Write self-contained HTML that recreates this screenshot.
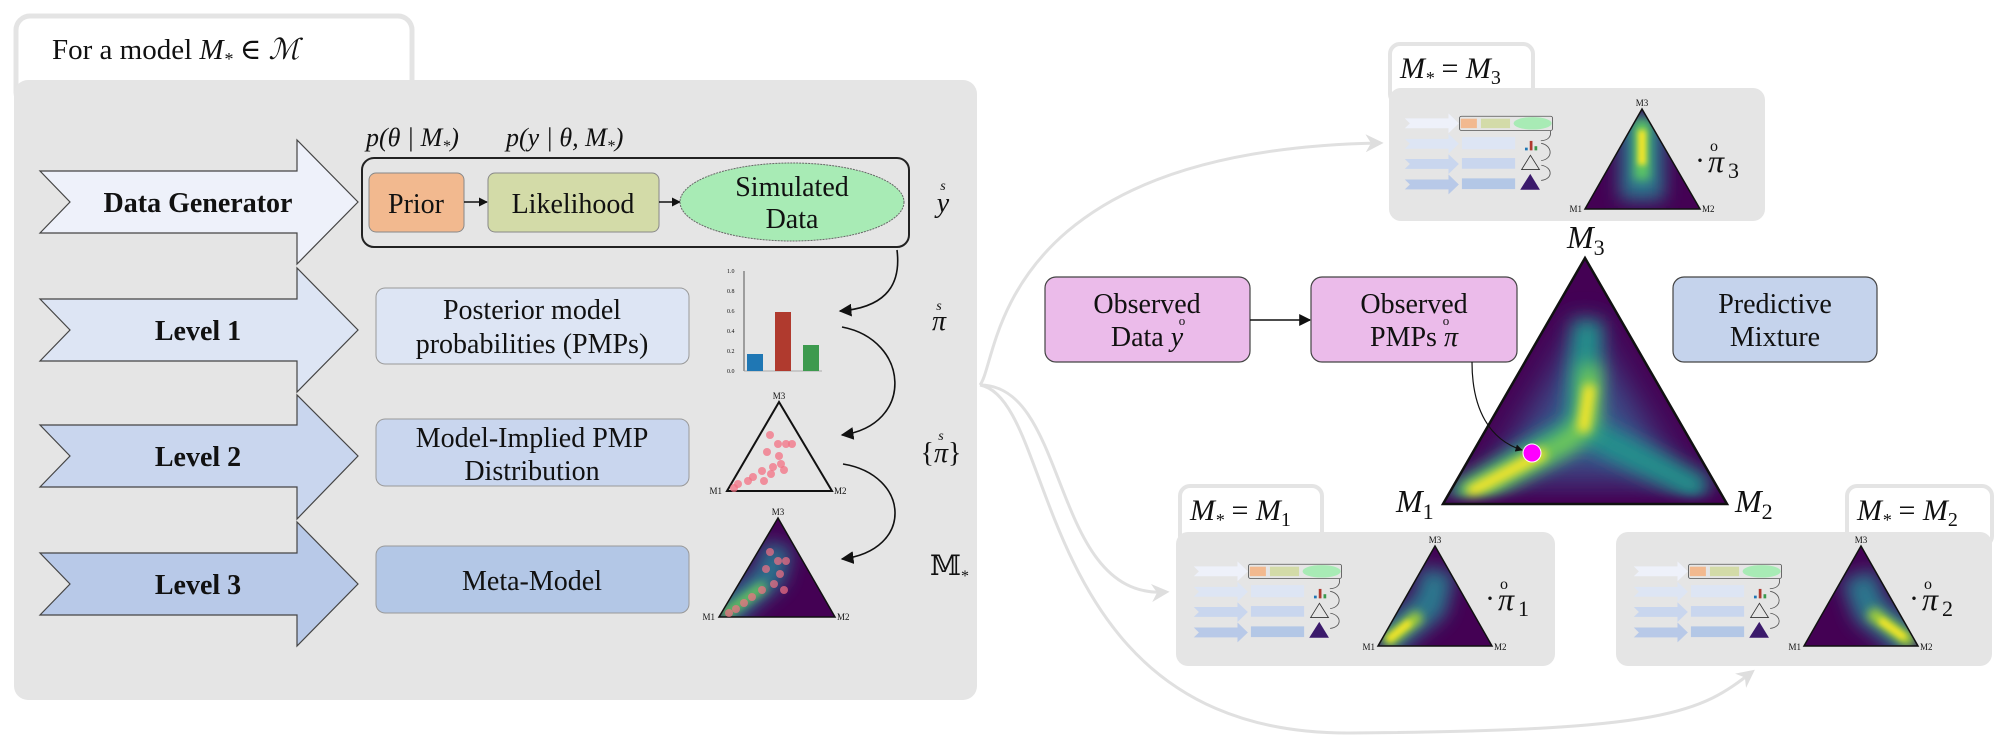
<!DOCTYPE html>
<html><head><meta charset="utf-8"><style>
html,body{margin:0;padding:0;background:#fff;}
svg{display:block;}
text{font-family:"Liberation Serif","DejaVu Serif",serif;fill:#111;}
.m{font-style:italic;}
</style></head><body>
<svg width="2000" height="749" viewBox="0 0 2000 749" xmlns="http://www.w3.org/2000/svg">
<defs>
<marker id="ah" viewBox="0 0 10 10" refX="9" refY="5" markerWidth="6" markerHeight="6" orient="auto"><path d="M0,0 L10,5 L0,10 z" fill="#111"/></marker>
<marker id="ahs" viewBox="0 0 10 10" refX="9" refY="5" markerWidth="8" markerHeight="8" orient="auto"><path d="M0,0 L10,5 L0,10 z" fill="#111"/></marker>
<marker id="ahg" viewBox="0 0 10 10" refX="8" refY="5" markerWidth="6" markerHeight="6" orient="auto"><path d="M0,0 L10,5 L0,10 L3,5 z" fill="#dedede"/></marker>
<filter id="b20" filterUnits="userSpaceOnUse" x="0" y="0" width="2000" height="749"><feGaussianBlur stdDeviation="18"/></filter>
<filter id="b10" filterUnits="userSpaceOnUse" x="0" y="0" width="2000" height="749"><feGaussianBlur stdDeviation="9"/></filter>
<filter id="b5" filterUnits="userSpaceOnUse" x="0" y="0" width="2000" height="749"><feGaussianBlur stdDeviation="5"/></filter>
<filter id="b3" filterUnits="userSpaceOnUse" x="0" y="0" width="2000" height="749"><feGaussianBlur stdDeviation="3"/></filter>
<clipPath id="cBig"><polygon points="1585,258 1443,504 1727,504"/></clipPath>
<clipPath id="cT3"><polygon points="1642,109 1585,209 1700,209"/></clipPath>
<clipPath id="cT1"><polygon points="1435,546 1378,646 1492,646"/></clipPath>
<clipPath id="cT2"><polygon points="1861,546 1804,646 1918,646"/></clipPath>
<clipPath id="cL3"><polygon points="778,518 719,617 835,617"/></clipPath>
</defs>

<!-- LEFT PANEL -->
<rect x="16" y="16" width="396" height="90" rx="14" fill="#fff" stroke="#e4e4e4" stroke-width="5"/>
<rect x="14" y="80" width="963" height="620" rx="14" fill="#e5e5e5"/>
<text x="52" y="59" font-size="29">For a model <tspan class="m">M</tspan><tspan class="m" font-size="18" dy="6">*</tspan><tspan dy="-6"> ∈ </tspan><tspan class="m" font-family="DejaVu Serif">ℳ</tspan></text>

<polygon points="40,171 297,171 297,140 358,202 297,264 297,233 40,233 70,202" fill="#eef1fa" stroke="#444" stroke-width="1.2"/>
<polygon points="40,299 297,299 297,268 358,330 297,392 297,361 40,361 70,330" fill="#dde5f4" stroke="#444" stroke-width="1.2"/>
<polygon points="40,425 297,425 297,395 358,456 297,519 297,487 40,487 70,456" fill="#c9d6ee" stroke="#444" stroke-width="1.2"/>
<polygon points="40,553 297,553 297,522 358,584 297,646 297,615 40,615 70,584" fill="#b8c9e8" stroke="#444" stroke-width="1.2"/>
<text x="198" y="212" font-size="28" font-weight="bold" text-anchor="middle">Data Generator</text>
<text x="198" y="340" font-size="28" font-weight="bold" text-anchor="middle">Level 1</text>
<text x="198" y="466" font-size="28" font-weight="bold" text-anchor="middle">Level 2</text>
<text x="198" y="594" font-size="28" font-weight="bold" text-anchor="middle">Level 3</text>

<text x="366" y="146" font-size="26" class="m">p(θ | M<tspan font-size="16" dy="5">*</tspan><tspan dy="-5">)</tspan></text>
<text x="506" y="146" font-size="26" class="m">p(y | θ, M<tspan font-size="16" dy="5">*</tspan><tspan dy="-5">)</tspan></text>
<rect x="362" y="158" width="547" height="89" rx="12" fill="none" stroke="#222" stroke-width="2"/>
<rect x="369" y="173" width="95" height="59" rx="7" fill="#f2b98f" stroke="#888" stroke-width="1"/>
<text x="416" y="213" font-size="28" text-anchor="middle">Prior</text>
<line x1="464" y1="202" x2="487" y2="202" stroke="#111" stroke-width="1.5" marker-end="url(#ah)"/>
<rect x="488" y="173" width="171" height="59" rx="7" fill="#d3dba8" stroke="#888" stroke-width="1"/>
<text x="573" y="213" font-size="28" text-anchor="middle">Likelihood</text>
<line x1="659" y1="202" x2="680" y2="202" stroke="#111" stroke-width="1.5" marker-end="url(#ah)"/>
<ellipse cx="792" cy="202" rx="112" ry="39" fill="#a8ebb5" stroke="#666" stroke-width="1" stroke-dasharray="2,1"/>
<text x="792" y="196" font-size="28" text-anchor="middle">Simulated</text>
<text x="792" y="228" font-size="28" text-anchor="middle">Data</text>
<text x="943" y="190" font-size="14" class="m" text-anchor="middle">s</text>
<text x="943" y="212" font-size="28" class="m" text-anchor="middle">y</text>

<rect x="376" y="288" width="313" height="76" rx="9" fill="#dde5f4" stroke="#999" stroke-width="1"/>
<text x="532" y="319" font-size="28" text-anchor="middle">Posterior model</text>
<text x="532" y="353" font-size="28" text-anchor="middle">probabilities (PMPs)</text>
<rect x="376" y="419" width="313" height="67" rx="9" fill="#c9d6ee" stroke="#999" stroke-width="1"/>
<text x="532" y="447" font-size="28" text-anchor="middle">Model-Implied PMP</text>
<text x="532" y="480" font-size="28" text-anchor="middle">Distribution</text>
<rect x="376" y="546" width="313" height="67" rx="9" fill="#b3c7e6" stroke="#999" stroke-width="1"/>
<text x="532" y="590" font-size="28" text-anchor="middle">Meta-Model</text>

<line x1="744" y1="271" x2="744" y2="371" stroke="#555" stroke-width="1"/>
<line x1="744" y1="371" x2="822" y2="371" stroke="#999" stroke-width="0.8"/>
<g fill="#777"><text x="727" y="273" font-size="6">1.0</text><text x="727" y="293" font-size="6">0.8</text><text x="727" y="313" font-size="6">0.6</text><text x="727" y="333" font-size="6">0.4</text><text x="727" y="353" font-size="6">0.2</text><text x="727" y="373" font-size="6">0.0</text></g>
<rect x="747" y="354" width="16" height="17" fill="#1f77b4"/>
<rect x="775" y="312" width="16" height="59" fill="#b03a2e"/>
<rect x="803" y="345" width="16" height="26" fill="#3d9a4e"/>

<polygon points="779,402 727,491 832,491" fill="none" stroke="#111" stroke-width="2"/>
<text x="779" y="399" font-size="9" text-anchor="middle" font-family="Liberation Sans">M3</text>
<text x="722" y="494" font-size="9" text-anchor="end" font-family="Liberation Sans">M1</text>
<text x="834" y="494" font-size="9" font-family="Liberation Sans">M2</text>
<g fill="#f37083" fill-opacity="0.75">
<circle cx="770" cy="435" r="4"/><circle cx="778" cy="444" r="4"/><circle cx="786" cy="444" r="4"/><circle cx="792" cy="444" r="4"/><circle cx="767" cy="452" r="4"/><circle cx="779" cy="456" r="4"/><circle cx="781" cy="464" r="4"/><circle cx="773" cy="467" r="4"/><circle cx="784" cy="470" r="4"/><circle cx="771" cy="474" r="4"/><circle cx="762" cy="471" r="4"/><circle cx="753" cy="477" r="4"/><circle cx="748" cy="481" r="4"/><circle cx="738" cy="484" r="4"/><circle cx="734" cy="488" r="4"/><circle cx="764" cy="481" r="4"/></g>

<g clip-path="url(#cL3)">
<rect x="710" y="510" width="130" height="110" fill="#440154"/>
<path d="M722,616 L770,575 L778,545" stroke="#2c728e" stroke-width="30" fill="none" filter="url(#b10)"/>
<path d="M722,616 L765,585" stroke="#6ece58" stroke-width="10" fill="none" filter="url(#b5)"/>
</g>
<polygon points="778,518 719,617 835,617" fill="none" stroke="#111" stroke-width="1.5"/>
<g fill="#f37083" fill-opacity="0.7">
<circle cx="770" cy="552" r="4"/><circle cx="778" cy="561" r="4"/><circle cx="786" cy="561" r="4"/><circle cx="766" cy="569" r="4"/><circle cx="780" cy="574" r="4"/><circle cx="774" cy="584" r="4"/><circle cx="784" cy="590" r="4"/><circle cx="762" cy="590" r="4"/><circle cx="752" cy="597" r="4"/><circle cx="744" cy="603" r="4"/><circle cx="736" cy="609" r="4"/><circle cx="729" cy="613" r="4"/></g>
<text x="778" y="515" font-size="9" text-anchor="middle" font-family="Liberation Sans">M3</text>
<text x="715" y="620" font-size="9" text-anchor="end" font-family="Liberation Sans">M1</text>
<text x="837" y="620" font-size="9" font-family="Liberation Sans">M2</text>

<path d="M897,250 C902,290 880,308 840,311" fill="none" stroke="#111" stroke-width="1.6" marker-end="url(#ahs)"/>
<path d="M842,327 C910,340 915,425 842,435" fill="none" stroke="#111" stroke-width="1.6" marker-end="url(#ahs)"/>
<path d="M843,464 C910,475 915,550 842,559" fill="none" stroke="#111" stroke-width="1.6" marker-end="url(#ahs)"/>
<text x="939" y="310" font-size="14" class="m" text-anchor="middle">s</text>
<text x="939" y="330" font-size="28" class="m" text-anchor="middle">π</text>
<text x="941" y="440" font-size="14" class="m" text-anchor="middle">s</text>
<text x="941" y="462" font-size="28" text-anchor="middle">{<tspan class="m">π</tspan>}</text>
<text x="930" y="575" font-size="28" font-family="DejaVu Serif">𝕄<tspan font-size="16" dy="6">*</tspan></text>

<g fill="none" stroke="#e0e0e0" stroke-width="3">
<path d="M980,385 C1000,360 990,150 1380,143" marker-end="url(#ahg)"/>
<path d="M980,385 C1070,385 1050,600 1166,592" marker-end="url(#ahg)"/>
<path d="M980,385 C1060,400 1030,735 1350,733 S1700,712 1752,672" marker-end="url(#ahg)"/>
</g>

<rect x="1390" y="44" width="143" height="60" rx="10" fill="#fff" stroke="#e4e4e4" stroke-width="4"/>
<rect x="1389" y="88" width="376" height="133" rx="12" fill="#e5e5e5"/>
<text x="1400" y="78" font-size="30" class="m">M<tspan font-size="18" dy="6">*</tspan><tspan dy="-6" font-style="normal"> = </tspan>M<tspan font-size="20" dy="6" font-style="normal">3</tspan></text>

<rect x="1180" y="486" width="142" height="60" rx="10" fill="#fff" stroke="#e4e4e4" stroke-width="4"/>
<rect x="1176" y="532" width="379" height="134" rx="12" fill="#e5e5e5"/>
<text x="1190" y="520" font-size="30" class="m">M<tspan font-size="18" dy="6">*</tspan><tspan dy="-6" font-style="normal"> = </tspan>M<tspan font-size="20" dy="6" font-style="normal">1</tspan></text>

<rect x="1847" y="486" width="145" height="60" rx="10" fill="#fff" stroke="#e4e4e4" stroke-width="4"/>
<rect x="1616" y="532" width="376" height="134" rx="12" fill="#e5e5e5"/>
<text x="1857" y="520" font-size="30" class="m">M<tspan font-size="18" dy="6">*</tspan><tspan dy="-6" font-style="normal"> = </tspan>M<tspan font-size="20" dy="6" font-style="normal">2</tspan></text>

<g transform="translate(1398,91) scale(0.17,0.16)">
<polygon points="40,171 297,171 297,140 358,202 297,264 297,233 40,233 70,202" fill="#eef1fa"/>
<polygon points="40,299 297,299 297,268 358,330 297,392 297,361 40,361 70,330" fill="#dde5f4"/>
<polygon points="40,425 297,425 297,395 358,456 297,519 297,487 40,487 70,456" fill="#c9d6ee"/>
<polygon points="40,553 297,553 297,522 358,584 297,646 297,615 40,615 70,584" fill="#b8c9e8"/>
<rect x="362" y="158" width="547" height="89" rx="12" fill="none" stroke="#555" stroke-width="5"/>
<rect x="369" y="173" width="95" height="59" fill="#f2b98f"/><rect x="488" y="173" width="171" height="59" fill="#d3dba8"/><ellipse cx="792" cy="202" rx="112" ry="39" fill="#a8ebb5"/>
<rect x="376" y="288" width="313" height="76" fill="#dde5f4"/><rect x="376" y="419" width="313" height="67" fill="#c9d6ee"/><rect x="376" y="546" width="313" height="67" fill="#b3c7e6"/>
<rect x="747" y="354" width="16" height="17" fill="#1f77b4"/><rect x="775" y="312" width="16" height="59" fill="#b03a2e"/><rect x="803" y="345" width="16" height="26" fill="#3d9a4e"/>
<polygon points="779,402 727,491 832,491" fill="none" stroke="#333" stroke-width="5"/><polygon points="778,518 719,617 835,617" fill="#3b1a6b"/>
<path d="M897,250 C902,290 880,308 840,311 M842,327 C910,340 915,425 842,435 M843,464 C910,475 915,550 842,559" fill="none" stroke="#555" stroke-width="5"/>
</g>
<g transform="translate(1187,539) scale(0.17,0.16)">
<polygon points="40,171 297,171 297,140 358,202 297,264 297,233 40,233 70,202" fill="#eef1fa"/>
<polygon points="40,299 297,299 297,268 358,330 297,392 297,361 40,361 70,330" fill="#dde5f4"/>
<polygon points="40,425 297,425 297,395 358,456 297,519 297,487 40,487 70,456" fill="#c9d6ee"/>
<polygon points="40,553 297,553 297,522 358,584 297,646 297,615 40,615 70,584" fill="#b8c9e8"/>
<rect x="362" y="158" width="547" height="89" rx="12" fill="none" stroke="#555" stroke-width="5"/>
<rect x="369" y="173" width="95" height="59" fill="#f2b98f"/><rect x="488" y="173" width="171" height="59" fill="#d3dba8"/><ellipse cx="792" cy="202" rx="112" ry="39" fill="#a8ebb5"/>
<rect x="376" y="288" width="313" height="76" fill="#dde5f4"/><rect x="376" y="419" width="313" height="67" fill="#c9d6ee"/><rect x="376" y="546" width="313" height="67" fill="#b3c7e6"/>
<rect x="747" y="354" width="16" height="17" fill="#1f77b4"/><rect x="775" y="312" width="16" height="59" fill="#b03a2e"/><rect x="803" y="345" width="16" height="26" fill="#3d9a4e"/>
<polygon points="779,402 727,491 832,491" fill="none" stroke="#333" stroke-width="5"/><polygon points="778,518 719,617 835,617" fill="#3b1a6b"/>
<path d="M897,250 C902,290 880,308 840,311 M842,327 C910,340 915,425 842,435 M843,464 C910,475 915,550 842,559" fill="none" stroke="#555" stroke-width="5"/>
</g>
<g transform="translate(1627,539) scale(0.17,0.16)">
<polygon points="40,171 297,171 297,140 358,202 297,264 297,233 40,233 70,202" fill="#eef1fa"/>
<polygon points="40,299 297,299 297,268 358,330 297,392 297,361 40,361 70,330" fill="#dde5f4"/>
<polygon points="40,425 297,425 297,395 358,456 297,519 297,487 40,487 70,456" fill="#c9d6ee"/>
<polygon points="40,553 297,553 297,522 358,584 297,646 297,615 40,615 70,584" fill="#b8c9e8"/>
<rect x="362" y="158" width="547" height="89" rx="12" fill="none" stroke="#555" stroke-width="5"/>
<rect x="369" y="173" width="95" height="59" fill="#f2b98f"/><rect x="488" y="173" width="171" height="59" fill="#d3dba8"/><ellipse cx="792" cy="202" rx="112" ry="39" fill="#a8ebb5"/>
<rect x="376" y="288" width="313" height="76" fill="#dde5f4"/><rect x="376" y="419" width="313" height="67" fill="#c9d6ee"/><rect x="376" y="546" width="313" height="67" fill="#b3c7e6"/>
<rect x="747" y="354" width="16" height="17" fill="#1f77b4"/><rect x="775" y="312" width="16" height="59" fill="#b03a2e"/><rect x="803" y="345" width="16" height="26" fill="#3d9a4e"/>
<polygon points="779,402 727,491 832,491" fill="none" stroke="#333" stroke-width="5"/><polygon points="778,518 719,617 835,617" fill="#3b1a6b"/>
<path d="M897,250 C902,290 880,308 840,311 M842,327 C910,340 915,425 842,435 M843,464 C910,475 915,550 842,559" fill="none" stroke="#555" stroke-width="5"/>
</g>

<g clip-path="url(#cT3)">
<rect x="1580" y="100" width="130" height="115" fill="#440154"/>
<path d="M1642,115 L1642,200" stroke="#2a788e" stroke-width="44" filter="url(#b10)"/>
<path d="M1642,120 L1642,180" stroke="#5ec962" stroke-width="16" filter="url(#b5)"/>
<path d="M1642,130 L1642,165" stroke="#fde725" stroke-width="8" filter="url(#b3)"/>
</g>
<polygon points="1642,109 1585,209 1700,209" fill="none" stroke="#111" stroke-width="1.5"/>
<g clip-path="url(#cT1)">
<rect x="1370" y="540" width="130" height="115" fill="#440154"/>
<path d="M1380,645 L1430,605 L1438,570" stroke="#2a788e" stroke-width="34" fill="none" filter="url(#b10)"/>
<path d="M1385,643 L1420,615" stroke="#b5de2b" stroke-width="12" filter="url(#b5)"/>
<path d="M1388,640 L1410,622" stroke="#fde725" stroke-width="6" filter="url(#b3)"/>
</g>
<polygon points="1435,546 1378,646 1492,646" fill="none" stroke="#111" stroke-width="1.5"/>
<g clip-path="url(#cT2)">
<rect x="1795" y="540" width="130" height="115" fill="#440154"/>
<path d="M1915,645 L1870,610 L1858,575" stroke="#2a788e" stroke-width="34" fill="none" filter="url(#b10)"/>
<path d="M1912,643 L1870,612" stroke="#b5de2b" stroke-width="12" filter="url(#b5)"/>
<path d="M1905,638 L1880,620" stroke="#fde725" stroke-width="6" filter="url(#b3)"/>
</g>
<polygon points="1861,546 1804,646 1918,646" fill="none" stroke="#111" stroke-width="1.5"/>
<g font-family="Liberation Sans" font-size="9" fill="#222">
<text x="1642" y="106" text-anchor="middle">M3</text><text x="1582" y="212" text-anchor="end">M1</text><text x="1702" y="212">M2</text>
<text x="1435" y="543" text-anchor="middle">M3</text><text x="1375" y="650" text-anchor="end">M1</text><text x="1494" y="650">M2</text>
<text x="1861" y="543" text-anchor="middle">M3</text><text x="1801" y="650" text-anchor="end">M1</text><text x="1920" y="650">M2</text>
</g>
<g>
<text x="1695" y="170" font-size="30" fill="#d627d6">·</text><text x="1710" y="151" font-size="16" fill="#d627d6" font-family="DejaVu Sans">o</text><text x="1708" y="172" font-size="32" class="m" fill="#d627d6" font-family="DejaVu Serif">π</text><text x="1728" y="178" font-size="22" fill="#d627d6" font-family="DejaVu Sans">3</text>
<text x="1485" y="608" font-size="30" fill="#d627d6">·</text><text x="1500" y="589" font-size="16" fill="#d627d6" font-family="DejaVu Sans">o</text><text x="1498" y="610" font-size="32" class="m" fill="#d627d6" font-family="DejaVu Serif">π</text><text x="1518" y="616" font-size="22" fill="#d627d6" font-family="DejaVu Sans">1</text>
<text x="1909" y="608" font-size="30" fill="#d627d6">·</text><text x="1924" y="589" font-size="16" fill="#d627d6" font-family="DejaVu Sans">o</text><text x="1922" y="610" font-size="32" class="m" fill="#d627d6" font-family="DejaVu Serif">π</text><text x="1942" y="616" font-size="22" fill="#d627d6" font-family="DejaVu Sans">2</text>
</g>

<!-- BIG TRIANGLE -->
<g clip-path="url(#cBig)">
<rect x="1430" y="250" width="310" height="260" fill="#440154"/>
<polygon points="1585,320 1490,480 1680,480" fill="#3b528b" filter="url(#b20)"/>
<path d="M1455,500 L1580,428 L1588,320 M1580,428 L1705,492" stroke="#21918c" stroke-width="30" fill="none" filter="url(#b10)" stroke-linejoin="round"/>
<path d="M1462,497 L1570,440 L1588,420 L1590,365" stroke="#7ad151" stroke-width="20" fill="none" filter="url(#b10)" stroke-linejoin="round"/>
<path d="M1468,493 L1545,452 M1583,432 L1590,385" stroke="#fde725" stroke-width="12" fill="none" filter="url(#b5)"/>
<path d="M1445,506 L1727,506" stroke="#440154" stroke-width="14" filter="url(#b5)"/>
</g>
<polygon points="1585,258 1443,504 1727,504" fill="none" stroke="#111" stroke-width="2.5"/>
<text x="1567" y="248" font-size="32" class="m">M<tspan font-size="22" dy="7" font-style="normal">3</tspan></text>
<text x="1396" y="512" font-size="32" class="m">M<tspan font-size="22" dy="7" font-style="normal">1</tspan></text>
<text x="1735" y="512" font-size="32" class="m">M<tspan font-size="22" dy="7" font-style="normal">2</tspan></text>

<rect x="1045" y="277" width="205" height="85" rx="11" fill="#ebbbea" stroke="#444" stroke-width="1.2"/>
<text x="1147" y="313" font-size="28" text-anchor="middle">Observed</text>
<text x="1147" y="346" font-size="28" text-anchor="middle">Data <tspan class="m">y</tspan></text>
<text x="1182" y="325" font-size="13" text-anchor="middle">o</text>
<line x1="1250" y1="320" x2="1310" y2="320" stroke="#111" stroke-width="1.5" marker-end="url(#ahs)"/>
<rect x="1311" y="277" width="206" height="85" rx="11" fill="#ebbbea" stroke="#444" stroke-width="1.2"/>
<text x="1414" y="313" font-size="28" text-anchor="middle">Observed</text>
<text x="1414" y="346" font-size="28" text-anchor="middle">PMPs <tspan class="m">π</tspan></text>
<text x="1446" y="325" font-size="13" text-anchor="middle">o</text>
<rect x="1673" y="277" width="204" height="85" rx="11" fill="#c5d3ec" stroke="#444" stroke-width="1.2"/>
<text x="1775" y="313" font-size="28" text-anchor="middle">Predictive</text>
<text x="1775" y="346" font-size="28" text-anchor="middle">Mixture</text>
<path d="M1472,362 C1472,410 1490,440 1522,450" fill="none" stroke="#111" stroke-width="1.2" marker-end="url(#ah)"/>
<circle cx="1532" cy="453" r="9" fill="#ff00ff" stroke="#fff" stroke-width="1"/>
</svg>
</body></html>
